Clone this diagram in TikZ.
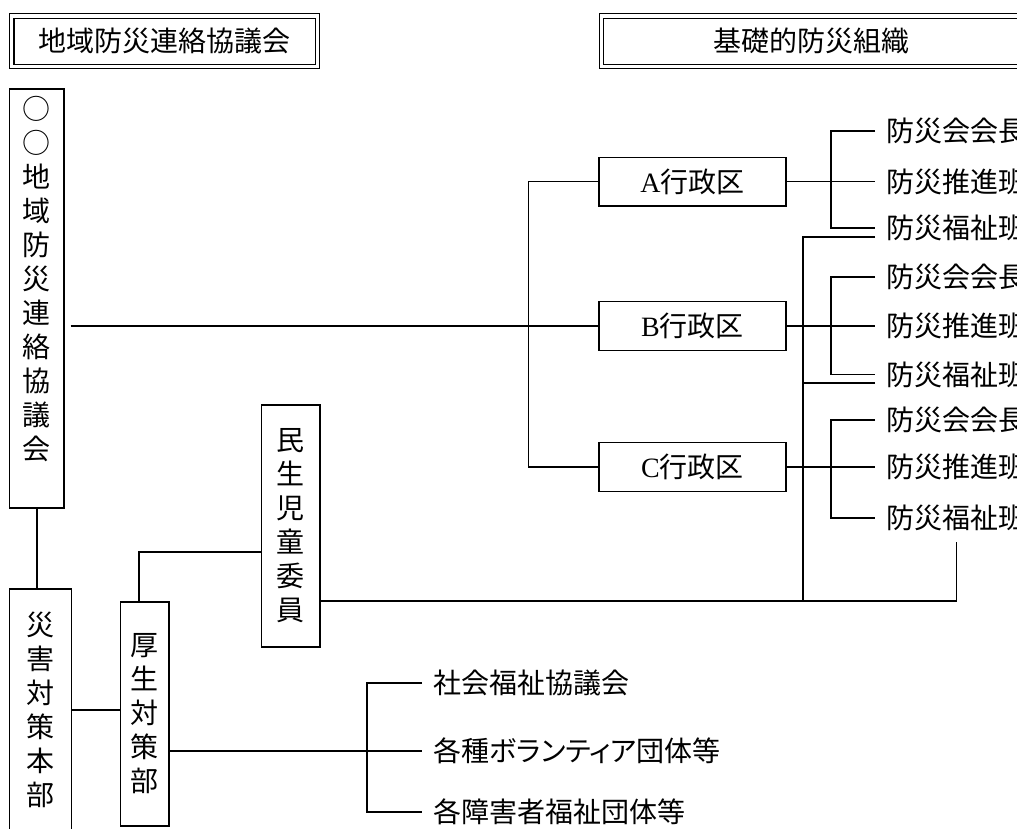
\documentclass[tikz,border=0pt]{standalone}
\usepackage{fontspec}
\setmainfont{Liberation Serif}
\newfontfamily\jp{Noto Sans CJK JP}
\usetikzlibrary{calc}

\begin{document}
\begin{tikzpicture}[x=0.75pt,y=-0.75pt,line width=1pt,
  every node/.style={font=\jp\fontsize{21pt}{25.5pt}\selectfont},
  caja/.style={draw, inner sep=0pt, align=center},
  cabecera/.style={draw, double, line width=0.8pt, double distance=2.4pt,
    inner sep=0pt, minimum height=37.7pt},
  lista/.style={anchor=west, inner xsep=8pt, inner ysep=0pt}]
% Marco de la figura (1017 x 828)
\useasboundingbox (0,0) rectangle (1017,828);

% Cabeceras con doble marco
\node[cabecera, minimum width=229.3pt] (cab1) at (164.7,41.2) {地域防災連絡協議会};
\node[cabecera, minimum width=314.3pt] (cab2) at (811,41.2) {基礎的防災組織};

% Cajas verticales de la izquierda
% la linea vacia del final sube el texto dentro de la caja
\node[caja, minimum width=40.7pt, minimum height=314.3pt] (kyogi) at (36.9,298.5)
  {○\\○\\地\\域\\防\\災\\連\\絡\\協\\議\\会\\[5pt]\mbox{}};
\node[caja, minimum width=46.2pt, minimum height=181.5pt] (saigai) at (40.4,710)
  {災\\害\\対\\策\\本\\部};
\node[caja, minimum width=36.2pt, minimum height=168pt] (kosei) at (144.9,714)
  {厚\\生\\対\\策\\部};
\node[caja, minimum width=43.7pt, minimum height=181.5pt] (minsei) at (290.8,526)
  {民\\生\\児\\童\\委\\員};

% Distritos administrativos
\node[caja, minimum width=140.3pt, minimum height=36.5pt] (gyoA) at (692.5,181.5) {{\rmfamily A}行政区};
\node[caja, minimum width=140.3pt, minimum height=36.5pt] (gyoB) at (692.5,326) {{\rmfamily B}行政区};
\node[caja, minimum width=140.3pt, minimum height=36.5pt] (gyoC) at (692.5,467) {{\rmfamily C}行政区};

% Listas de la derecha
\node[lista] (a1) at (875,131) {防災会会長};
\node[lista] (a2) at (875,181.5) {防災推進班};
\node[lista] (a3) at (875,228) {防災福祉班};
\node[lista] (b1) at (875,277) {防災会会長};
\node[lista] (b2) at (875,326) {防災推進班};
\node[lista] (b3) at (875,374.5) {防災福祉班};
\node[lista] (c1) at (875,420) {防災会会長};
\node[lista] (c2) at (875,467) {防災推進班};
\node[lista] (c3) at (875,518) {防災福祉班};

% Lista de abajo
\node[lista] (s1) at (422,683) {社会福祉協議会};
\node[lista] (s2) at (422,751) {\addfontfeature{RawFeature=+palt}各種ボランティア団体等};
\node[lista] (s3) at (422,812) {各障害者福祉団体等};

% Conexiones de la izquierda
\draw (kyogi.south) -- (kyogi.south |- saigai.north);
\draw (saigai.east) -- (saigai.east -| kosei.west);
\draw ($(kosei.north)+(-6,0)$) |- ($(minsei.west)+(0,26)$);
\draw[shorten <=4.5pt] (kyogi.east |- gyoB.west) -- (gyoB.west);

% Tronco de los distritos
\draw (gyoA.west) -- ++(-70,0) |- (gyoC.west);

% Corchetes de cada distrito
\draw (a1.west) -- ++(-44,0) |- (a3.west);
\draw (gyoA.east) -- (a2.west);
\draw (b1.west) -- ++(-44,0) |- (b3.west);
\draw (gyoB.east) -- (b2.west);
\draw (c1.west) -- ++(-44,0) |- (c3.west);
\draw (gyoC.east) -- (c2.west);

% Corchete de abajo
\draw (s1.west) -- ++(-55,0) |- (s3.west);
\draw (kosei.east |- s2.west) -- (s2.west);

% Lineas del comite hacia los grupos de bienestar
\coordinate (cruce) at (803,601);
\coordinate (ramaA) at (875,237);
\coordinate (ramaB) at (875,383);
\draw (minsei.east |- cruce) -| ($(c3.south)+(0,10)$);
\draw (ramaA) -| (cruce);
\draw (ramaB) -- (ramaB -| cruce);
\end{tikzpicture}
\end{document}
